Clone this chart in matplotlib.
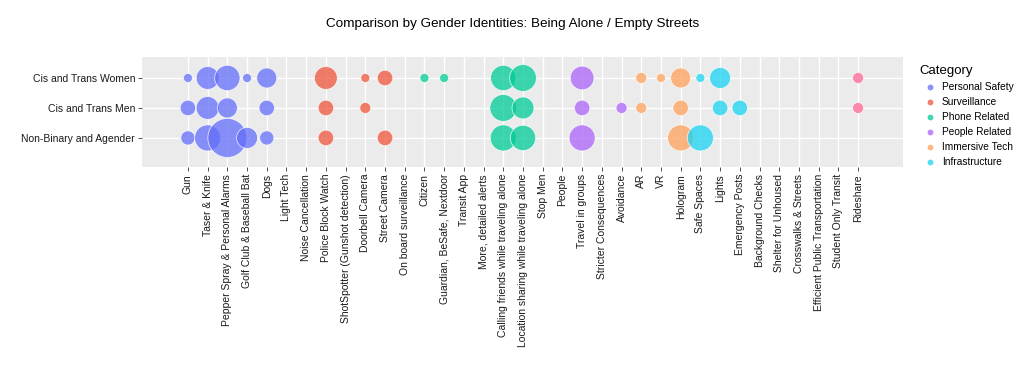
import matplotlib
matplotlib.use("Agg")
import matplotlib.pyplot as plt
from matplotlib.lines import Line2D
import numpy as np

plt.rcParams['font.family'] = ['Liberation Sans', 'DejaVu Sans']

# ---------------- data ----------------
items = [
    "Gun", "Taser & Knife", "Pepper Spray & Personal Alarms", "Golf Club & Baseball Bat",
    "Dogs", "Light Tech", "Noise Cancellation", "Police Block Watch",
    "ShotSpotter (Gunshot detection)", "Doorbell Camera", "Street Camera",
    "On board surveillance", "Citizen", "Guardian, BeSafe, Nextdoor", "Transit App",
    "More, detailed alerts", "Calling friends while traveling alone",
    "Location sharing while traveling alone", "Stop Men", "People", "Travel in groups",
    "Stricter Consequences", "Avoidance", "AR", "VR", "Hologram", "Safe Spaces",
    "Lights", "Emergency Posts", "Background Checks", "Shelter for Unhoused",
    "Crosswalks & Streets", "Efficient Public Transportation", "Student Only Transit",
    "Rideshare",
]

item_category = {
    "Gun": "Personal Safety", "Taser & Knife": "Personal Safety",
    "Pepper Spray & Personal Alarms": "Personal Safety",
    "Golf Club & Baseball Bat": "Personal Safety", "Dogs": "Personal Safety",
    "Light Tech": "Personal Safety", "Noise Cancellation": "Personal Safety",
    "Police Block Watch": "Surveillance", "ShotSpotter (Gunshot detection)": "Surveillance",
    "Doorbell Camera": "Surveillance", "Street Camera": "Surveillance",
    "On board surveillance": "Surveillance",
    "Citizen": "Phone Related", "Guardian, BeSafe, Nextdoor": "Phone Related",
    "Transit App": "Phone Related", "More, detailed alerts": "Phone Related",
    "Calling friends while traveling alone": "Phone Related",
    "Location sharing while traveling alone": "Phone Related",
    "Stop Men": "People Related", "People": "People Related",
    "Travel in groups": "People Related", "Stricter Consequences": "People Related",
    "Avoidance": "People Related",
    "AR": "Immersive Tech", "VR": "Immersive Tech", "Hologram": "Immersive Tech",
    "Safe Spaces": "Infrastructure", "Lights": "Infrastructure",
    "Emergency Posts": "Infrastructure", "Background Checks": "Infrastructure",
    "Shelter for Unhoused": "Infrastructure", "Crosswalks & Streets": "Infrastructure",
    "Efficient Public Transportation": "Infrastructure",
    "Student Only Transit": "Infrastructure",
    "Rideshare": "Transportation",
}

groups = ["Non-Binary and Agender", "Cis and Trans Men", "Cis and Trans Women"]

categories = ["Personal Safety", "Surveillance", "Phone Related",
              "People Related", "Immersive Tech", "Infrastructure"]
category_colors = {
    "Personal Safety": "#636EFA", "Surveillance": "#EF553B",
    "Phone Related": "#00CC96", "People Related": "#AB63FA",
    "Immersive Tech": "#FFA15A", "Infrastructure": "#19D3F3",
    "Transportation": "#FF6692",
}

# responses per group (estimated counts)
women_items = ["Gun", "Taser & Knife", "Pepper Spray & Personal Alarms",
               "Golf Club & Baseball Bat", "Dogs", "Police Block Watch",
               "Doorbell Camera", "Street Camera", "Citizen", "Guardian, BeSafe, Nextdoor",
               "Calling friends while traveling alone",
               "Location sharing while traveling alone", "Travel in groups",
               "AR", "VR", "Hologram", "Safe Spaces", "Lights", "Rideshare"]
women_counts = [1, 12, 15, 1, 9, 12, 1, 5, 1, 1, 15, 17, 13, 2, 1, 9, 1, 10, 2]

men_items = ["Gun", "Taser & Knife", "Pepper Spray & Personal Alarms", "Dogs",
             "Police Block Watch", "Doorbell Camera",
             "Calling friends while traveling alone",
             "Location sharing while traveling alone", "Travel in groups",
             "Avoidance", "AR", "Hologram", "Lights", "Emergency Posts", "Rideshare"]
men_counts = [5, 12, 9, 5, 5, 2, 17, 11, 5, 2, 2, 5, 5, 5, 2]

nb_items = ["Gun", "Taser & Knife", "Pepper Spray & Personal Alarms",
            "Golf Club & Baseball Bat", "Dogs", "Police Block Watch", "Street Camera",
            "Calling friends while traveling alone",
            "Location sharing while traveling alone", "Travel in groups",
            "Hologram", "Safe Spaces"]
nb_counts = [4, 16, 37, 10, 4, 5, 5, 16, 15, 16, 16, 16]

group_data = {
    "Cis and Trans Women": (women_items, women_counts),
    "Cis and Trans Men": (men_items, men_counts),
    "Non-Binary and Agender": (nb_items, nb_counts),
}

# ---------------- plot ----------------
fig = plt.figure(figsize=(10.24, 3.7), dpi=100)
ax = fig.add_axes([142 / 1024, 1 - 167 / 370, (903 - 142) / 1024, (167 - 57) / 370])
ax.set_facecolor("#EBEBEB")


def marker_area(v):
    d_px = np.sqrt(41 + 40 * np.asarray(v, dtype=float))
    return (d_px * 0.72) ** 2


x_index = {name: i for i, name in enumerate(items)}
y_index = {g: i for i, g in enumerate(groups)}

for cat in categories + ["Transportation"]:
    xs, ys, vs = [], [], []
    for g in ["Cis and Trans Women", "Cis and Trans Men", "Non-Binary and Agender"]:
        its, cnts = group_data[g]
        for it, c in zip(its, cnts):
            if item_category[it] == cat:
                xs.append(x_index[it])
                ys.append(y_index[g])
                vs.append(c)
    if xs:
        ax.scatter(xs, ys, s=marker_area(vs), color=category_colors[cat], alpha=0.75,
                   edgecolors=(1, 1, 1, 0.6), linewidths=0.6, zorder=3)

ax.set_xlim(-2.33, len(items) - 1 + 2.28)
ax.set_ylim(-0.97, 2.7)
ax.set_xticks(range(len(items)))
ax.set_xticklabels(items, rotation=90, fontsize=7.5, color="#1a1a1a")
ax.set_yticks(range(len(groups)))
ax.set_yticklabels(groups, fontsize=7.5, color="#1a1a1a")
ax.grid(True, color="white", linewidth=1.0, zorder=0)
ax.set_axisbelow(True)
for sp in ax.spines.values():
    sp.set_visible(False)
ax.tick_params(axis="both", length=3, width=0.6, color="#333333", pad=2)

fig.text(0.5005, 1 - 24 / 370, "Comparison by Gender Identities: Being Alone / Empty Streets",
         ha="center", va="center", fontsize=9.7, color="#000000")

handles = [Line2D([0], [0], marker="o", linestyle="", markersize=4.2,
                  markerfacecolor=category_colors[c], markeredgecolor="none",
                  alpha=0.75, label=c) for c in categories]
leg = fig.legend(handles=handles, title="Category", loc="upper left",
                 bbox_to_anchor=(919 / 1024, 1 - 65 / 370), frameon=False,
                 fontsize=7.3, title_fontsize=9.5, handletextpad=0.05,
                 labelspacing=0.5, borderaxespad=0, handlelength=2.2,
                 borderpad=0)
leg._legend_box.align = "left"

fig.savefig("out.png", dpi=100)
